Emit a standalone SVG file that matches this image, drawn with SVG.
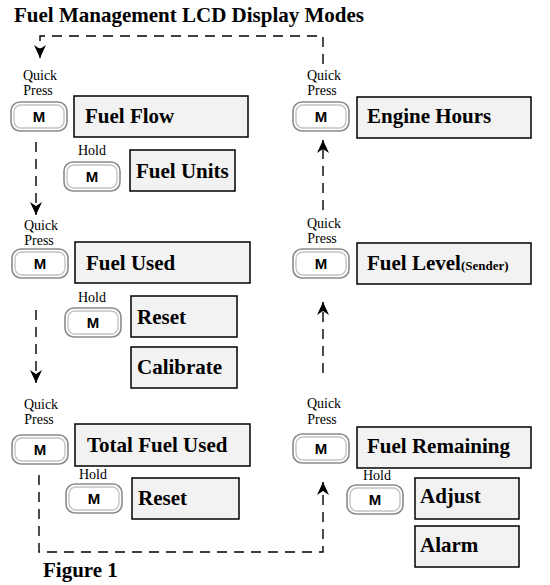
<svg xmlns="http://www.w3.org/2000/svg" width="550" height="585" viewBox="0 0 550 585">
<defs>
<style>
.title{font-family:"Liberation Serif",serif;font-weight:bold;font-size:21px;fill:#000}
.lbl{font-family:"Liberation Serif",serif;font-weight:bold;font-size:21px;fill:#000}
.small{font-family:"Liberation Serif",serif;font-size:14px;fill:#000;text-anchor:middle}
.mk{font-family:"Liberation Sans",sans-serif;font-weight:bold;font-size:15px;fill:#000;text-anchor:middle}
.box{fill:#f2f2f2;stroke:#000;stroke-width:1.5}
.btno{fill:#fff;stroke:#8a8a8a;stroke-width:1.6}
.btni{fill:none;stroke:#c4c4c4;stroke-width:1.4}
.conn{fill:none;stroke:#000;stroke-width:1.4;stroke-dasharray:10 7}
</style>
<marker id="arr" markerUnits="userSpaceOnUse" markerWidth="14" markerHeight="12" viewBox="0 0 14 12" refX="13" refY="6" orient="auto">
<path d="M0,0 L13,6 L0,12 L4,6 Z" fill="#000"/>
</marker>
<g id="btn">
<rect class="btno" x="0" y="0" width="56" height="29" rx="9"/>
<rect class="btni" x="3" y="3" width="50" height="23" rx="7"/>
<text class="mk" x="28" y="20">M</text>
</g>
</defs>
<rect width="550" height="585" fill="#fff"/>
<text class="title" x="14" y="22">Fuel Management LCD Display Modes</text>

<g id="connectors">
<path class="conn" d="M323,64 V36 H40 V58" marker-end="url(#arr)"/>
<path class="conn" d="M36,142 V215" marker-end="url(#arr)"/>
<path class="conn" d="M36,310 V383" marker-end="url(#arr)"/>
<path class="conn" d="M39,475 V552 H323 V482" marker-end="url(#arr)"/>
<path class="conn" d="M323,373 V302" marker-end="url(#arr)"/>
<path class="conn" d="M323,210 V140" marker-end="url(#arr)"/>
</g>

<g id="fuel-flow">
<text class="small" x="40" y="80">Quick</text>
<text class="small" x="38" y="95">Press</text>
<use href="#btn" x="11" y="102"/>
<rect class="box" x="74" y="96" width="174" height="41"/>
<text class="lbl" x="85" y="123">Fuel Flow</text>
</g>
<g id="fuel-units">
<text class="small" x="92" y="155">Hold</text>
<use href="#btn" x="64" y="162"/>
<rect class="box" x="130" y="150" width="105" height="41"/>
<text class="lbl" x="136" y="178">Fuel Units</text>
</g>

<g id="fuel-used">
<text class="small" x="41" y="230">Quick</text>
<text class="small" x="39" y="245">Press</text>
<use href="#btn" x="12" y="249"/>
<rect class="box" x="75" y="242" width="175" height="41"/>
<text class="lbl" x="86" y="270">Fuel Used</text>
</g>
<g id="fuel-used-reset">
<text class="small" x="92" y="302">Hold</text>
<use href="#btn" x="65" y="308"/>
<rect class="box" x="131" y="296" width="106" height="41"/>
<text class="lbl" x="137" y="324">Reset</text>
</g>
<g id="calibrate">
<rect class="box" x="131" y="347" width="106" height="41"/>
<text class="lbl" x="137" y="374">Calibrate</text>
</g>

<g id="total-fuel-used">
<text class="small" x="41" y="409">Quick</text>
<text class="small" x="39" y="424">Press</text>
<use href="#btn" x="12" y="435"/>
<rect class="box" x="75" y="424" width="175" height="42"/>
<text class="lbl" x="87" y="452">Total Fuel Used</text>
</g>
<g id="total-reset">
<text class="small" x="93" y="479">Hold</text>
<use href="#btn" x="66" y="484"/>
<rect class="box" x="132" y="478" width="107" height="41"/>
<text class="lbl" x="138" y="505">Reset</text>
</g>

<g id="engine-hours">
<text class="small" x="324" y="80">Quick</text>
<text class="small" x="322" y="95">Press</text>
<use href="#btn" x="293" y="102"/>
<rect class="box" x="357" y="97" width="174" height="41"/>
<text class="lbl" x="367" y="123">Engine Hours</text>
</g>

<g id="fuel-level">
<text class="small" x="324" y="228">Quick</text>
<text class="small" x="322" y="243">Press</text>
<use href="#btn" x="293" y="249"/>
<rect class="box" x="357" y="243" width="174" height="41"/>
<text class="lbl" x="367" y="270">Fuel Level<tspan font-size="13">(Sender)</tspan></text>
</g>

<g id="fuel-remaining">
<text class="small" x="324" y="408">Quick</text>
<text class="small" x="322" y="424">Press</text>
<use href="#btn" x="293" y="434"/>
<rect class="box" x="357" y="427" width="174" height="41"/>
<text class="lbl" x="367" y="453">Fuel Remaining</text>
</g>
<g id="adjust">
<text class="small" x="377" y="480">Hold</text>
<use href="#btn" x="347" y="485"/>
<rect class="box" x="415" y="478" width="104" height="41"/>
<text class="lbl" x="420" y="503">Adjust</text>
</g>
<g id="alarm">
<rect class="box" x="415" y="526" width="104" height="41"/>
<text class="lbl" x="420" y="552">Alarm</text>
</g>

<text class="lbl" x="43" y="577" font-size="17">Figure 1</text>
</svg>
